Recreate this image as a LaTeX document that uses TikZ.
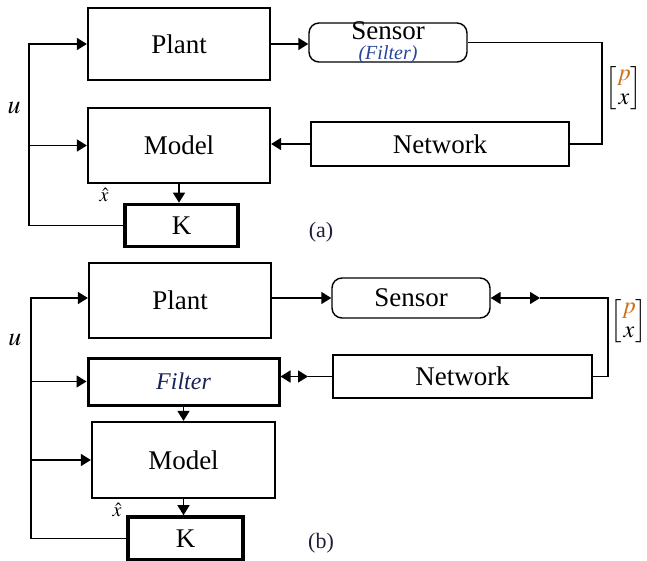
\documentclass[tikz,border=0pt]{standalone}
\usepackage{amsmath}
\usepackage{mathptmx}
\usepackage{fontspec}
\setmainfont{Liberation Serif}
\usetikzlibrary{arrows.meta,positioning}

\definecolor{pcol}{RGB}{205,110,20}
\definecolor{fcol}{RGB}{40,70,150}
\definecolor{fcolb}{RGB}{25,35,90}
\definecolor{lcol}{RGB}{30,30,60}

% two centred lines, 10pt apart, first baseline kept as the reference
\newcommand{\twolines}[2]{\raisebox{0pt}[8.5pt][11pt]{\begin{tabular}[t]{@{}c@{}}#1\\[-6pt]#2\end{tabular}}}
\newcommand{\pxvec}{$\setlength\arraycolsep{1.5pt}\renewcommand\arraystretch{0.85}\begin{bmatrix}{\color{pcol}p}\\x\end{bmatrix}$}

\begin{document}
\begin{tikzpicture}[
	x = 0.5pt, y = -0.5pt, % one unit per pixel, y downwards
	> = {Triangle[length=5pt, width=6pt]}, % arrow head style
	line width = 0.75pt, % line style
	Blk/.style={rectangle, draw=black, line width=1.1pt, inner sep=0pt, font=\fontsize{13.5}{16}\selectfont},
	Thin/.style={Blk, line width=0.7pt},
	Gain/.style={Blk, line width=1.8pt},
	Rnd/.style={Thin, rounded corners=5pt},
	Lbl/.style={inner sep=0pt, font=\fontsize{11}{13}\selectfont},
	Vec/.style={Lbl, font=\fontsize{12}{14}\selectfont},
	]
	\useasboundingbox (0,0) rectangle (647,561);

	% (a) Nodes
	\node[Blk, minimum width=91pt, minimum height=36pt] (PlantA) at (179,44) {Plant};
	\node[Blk, minimum width=91pt, minimum height=37.5pt] (ModelA) at (179,145.5) {Model};
	\node[Gain, minimum width=56.5pt, minimum height=21pt] (KA) at (181.5,225.5) {K};
	\node[Rnd, minimum width=79pt, minimum height=19.5pt] (SensorA) at (388,42.5)
		{\twolines{Sensor}{\fontsize{10}{7}\selectfont\itshape\color{fcol}(Filter)}};
	\node[Thin, minimum width=129pt, minimum height=22pt] (NetworkA) at (440,144) {Network};
	\node[Vec] (VecA) at (624,88) {\pxvec};
	\node[Lbl, font=\fontsize{13}{15}\selectfont] (UA) at (14,108) {$u$};
	\node[Lbl, font=\fontsize{10}{12}\selectfont] (XhatA) at (104,195) {$\hat{x}$};
	\node[Lbl, text=lcol] (CapA) at (321,232) {(a)};
	\coordinate (BusA) at (29,0);
	\coordinate (TurnA) at (602,0);

	% (a) Paths
	\draw[->] (KA.west) -| (BusA |- PlantA.west) -- (PlantA.west);
	\draw[->] (BusA |- ModelA.west) -- (ModelA.west);
	\draw[->] (PlantA.east) -- (PlantA.east -| SensorA.west);
	\draw (SensorA.east) -| (TurnA |- NetworkA.east) -- (NetworkA.east);
	\draw[->] (NetworkA.west) -- (NetworkA.west -| ModelA.east);
	\draw[->] (ModelA.south) -- (ModelA.south |- KA.north);

	% (b) Nodes
	\node[Blk, minimum width=91pt, minimum height=37.5pt] (PlantB) at (180,300.5) {Plant};
	\node[Blk, line width=1.5pt, minimum width=95.5pt, minimum height=23.5pt] (FilterB) at (183.5,381.5)
		{\fontsize{12}{14}\selectfont\itshape\color{fcolb}Filter};
	\node[Blk, minimum width=91.5pt, minimum height=38pt] (ModelB) at (183.5,460) {Model};
	\node[Gain, minimum width=57.5pt, minimum height=21.5pt] (KB) at (185.5,538.5) {K};
	\node[Rnd, minimum width=79pt, minimum height=20pt] (SensorB) at (411,298) {Sensor};
	\node[Thin, minimum width=129.5pt, minimum height=21.5pt] (NetworkB) at (462.5,376.5) {Network};
	\node[Vec] (VecB) at (629,321) {\pxvec};
	\node[Lbl, font=\fontsize{13}{15}\selectfont] (UB) at (15,340) {$u$};
	\node[Lbl, font=\fontsize{10}{12}\selectfont] (XhatB) at (117,510) {$\hat{x}$};
	\node[Lbl, text=lcol] (CapB) at (321,543) {(b)};
	\coordinate (BusB) at (31,0);
	\coordinate (TurnB) at (608,0);
	\coordinate (TipS) at (540,0);
	\coordinate (TipF) at (308,0);

	% (b) Paths
	\draw[->] (KB.west) -| (BusB |- SensorB.west) -- (SensorB.west -| PlantB.west);
	\draw[->] (BusB |- FilterB.west) -- (FilterB.west);
	\draw[->] (BusB |- ModelB.west) -- (ModelB.west);
	\draw[->] (SensorB.west -| PlantB.east) -- (SensorB.west);
	\draw[<->] (SensorB.east) -- (SensorB.east -| TipS);
	\draw (SensorB.east -| TipS) -| (TurnB |- NetworkB.east) -- (NetworkB.east);
	\draw[<->] (NetworkB.west -| FilterB.east) -- (NetworkB.west -| TipF);
	\draw (NetworkB.west -| TipF) -- (NetworkB.west);
	\draw[->] (FilterB.south) -- (FilterB.south |- ModelB.north);
	\draw[->] (ModelB.south) -- (ModelB.south |- KB.north);

\end{tikzpicture}
\end{document}
